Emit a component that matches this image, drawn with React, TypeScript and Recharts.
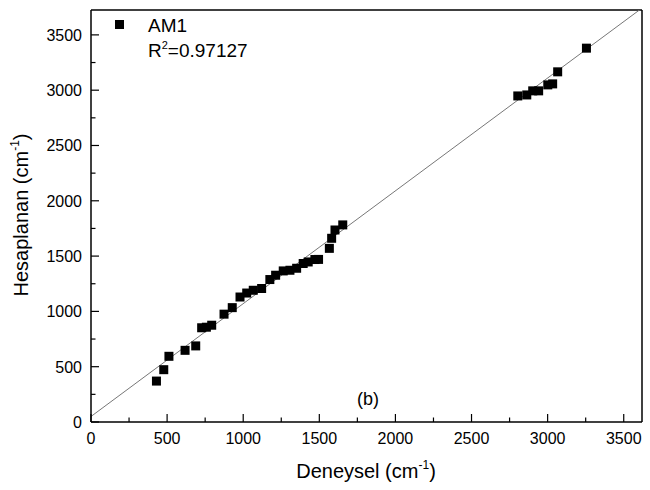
import { ScatterChart, Scatter, XAxis, YAxis, ReferenceLine } from 'recharts';

// measured vs calculated wavenumbers (AM1)
const deneysel = [
    430, 478, 512, 618, 688, 727, 758, 793, 874, 928, 979, 1023, 1066, 1121, 1175, 1213, 1263, 1307,
    1351, 1394, 1427, 1471, 1495, 1566, 1581, 1603, 1654, 2804, 2863, 2902, 2941, 3001, 3033, 3066, 3255,
];
const hesaplanan = [
    370, 473, 594, 648, 688, 852, 857, 875, 975, 1034, 1130, 1166, 1191, 1207, 1288, 1327, 1366, 1372,
    1390, 1433, 1447, 1469, 1470, 1570, 1661, 1736, 1782, 2948, 2957, 2994, 2994, 3048, 3057, 3166, 3380,
];
const xTicks = [0, 250, 500, 750, 1000, 1250, 1500, 1750, 2000, 2250, 2500, 2750, 3000, 3250, 3500];
const yTicks = [0, 250, 500, 750, 1000, 1250, 1500, 1750, 2000, 2250, 2500, 2750, 3000, 3250, 3500];
const xMax = 3620;
const yMax = 3725;
const fitIntercept = 50;
const fitSlope = 1.02;

const points = deneysel.map((x, i) => ({ x, y: hesaplanan[i] }));
const FONT = '"Liberation Sans", Arial, sans-serif';

const XTick = (props: any) => {
    const { x, y, payload } = props;
    const major = payload.value % 500 === 0;
    return (
        <g>
            <line x1={x} x2={x} y1={y} y2={y - (major ? 8 : 4.5)} stroke="#000" strokeWidth={1.2} />
            {major && (
                <text x={x} y={y + 22} textAnchor="middle" fontSize={16} fill="#000" fontFamily={FONT}>
                    {payload.value}
                </text>
            )}
        </g>
    );
};

const YTick = (props: any) => {
    const { x, y, payload } = props;
    const major = payload.value % 500 === 0;
    return (
        <g>
            <line x1={x} x2={x + (major ? 8 : 4.5)} y1={y} y2={y} stroke="#000" strokeWidth={1.2} />
            {major && (
                <text x={x - 9} y={y + 6} textAnchor="end" fontSize={16} fill="#000" fontFamily={FONT}>
                    {payload.value}
                </text>
            )}
        </g>
    );
};

const Square = (props: any) => (
    <rect x={props.cx - 4.5} y={props.cy - 4.5} width={9} height={9} fill="#000" />
);

export default function App() {
    return (
        <div style={{ position: 'absolute', left: 0, top: 0, width: 650, height: 490, background: '#fff' }}>
            <ScatterChart width={650} height={490} margin={{ top: 10, right: 8, left: 0, bottom: 0 }}>
                <XAxis
                    type="number"
                    dataKey="x"
                    domain={[0, xMax]}
                    ticks={xTicks}
                    interval={0}
                    tickSize={0}
                    tickMargin={0}
                    tick={<XTick />}
                    height={68}
                    axisLine={{ stroke: '#000', strokeWidth: 1.5 }}
                    allowDataOverflow
                />
                <YAxis
                    type="number"
                    dataKey="y"
                    domain={[0, yMax]}
                    ticks={yTicks}
                    interval={0}
                    tickSize={0}
                    tickMargin={0}
                    tick={<YTick />}
                    width={91}
                    axisLine={{ stroke: '#000', strokeWidth: 1.5 }}
                    allowDataOverflow
                />
                <ReferenceLine y={yMax} stroke="#000" strokeWidth={1.5} />
                <ReferenceLine x={xMax} stroke="#000" strokeWidth={1.5} />
                <ReferenceLine
                    segment={[
                        { x: 0, y: fitIntercept },
                        { x: xMax, y: fitIntercept + fitSlope * xMax },
                    ]}
                    stroke="#777"
                    strokeWidth={1}
                    ifOverflow="hidden"
                />
                <Scatter data={points} shape={<Square />} isAnimationActive={false} />
            </ScatterChart>
            <svg width={650} height={490} style={{ position: 'absolute', left: 0, top: 0, pointerEvents: 'none' }}>
                <g fontFamily={FONT} fill="#000">
                    <rect x={115} y={20} width={9} height={9} fill="#000" />
                    <text x={148} y={32} fontSize={19}>AM1</text>
                    <text x={148} y={57} fontSize={19}>
                        R<tspan fontSize={11} dy={-8}>2</tspan><tspan dy={8}>=0.97127</tspan>
                    </text>
                    <text x={368} y={405} fontSize={18} textAnchor="middle">(b)</text>
                    <text x={366} y={478} fontSize={20} textAnchor="middle">
                        Deneysel (cm<tspan fontSize={12} dy={-9}>-1</tspan><tspan dy={9}>)</tspan>
                    </text>
                    <text x={0} y={0} fontSize={20} textAnchor="middle" transform="translate(28,215) rotate(-90)">
                        Hesaplanan (cm<tspan fontSize={12} dy={-9}>-1</tspan><tspan dy={9}>)</tspan>
                    </text>
                </g>
            </svg>
        </div>
    );
}
